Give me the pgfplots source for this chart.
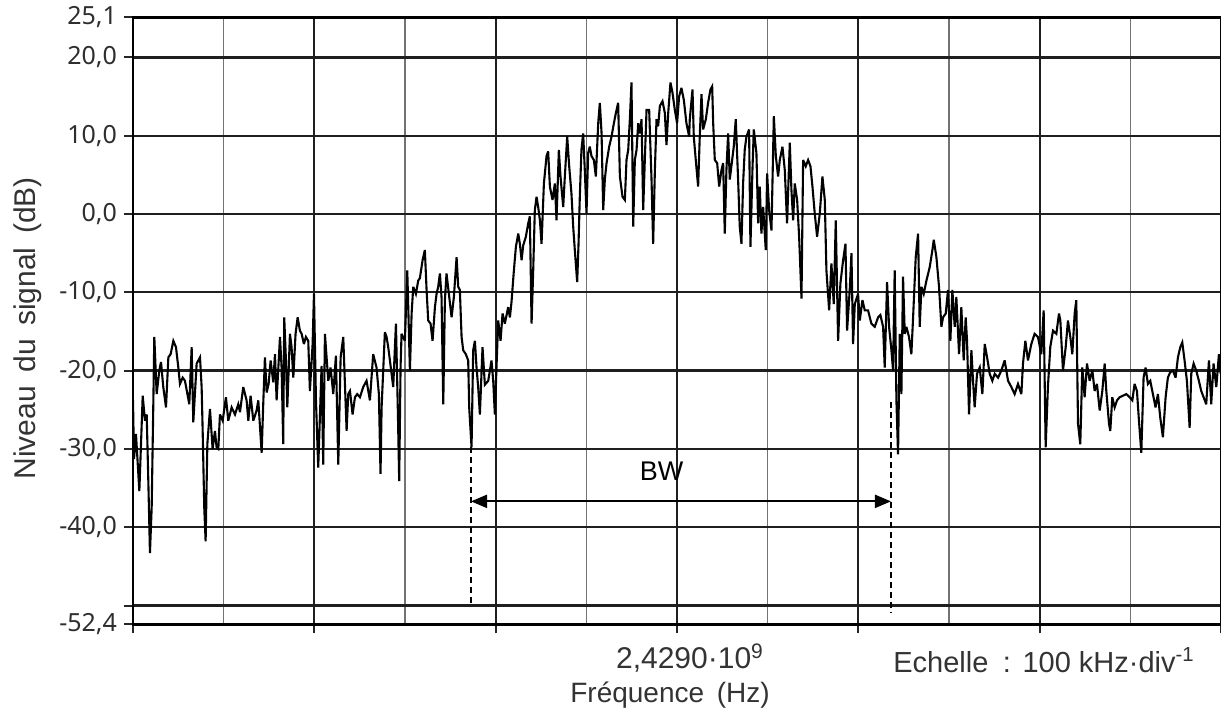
\documentclass[border=0pt]{standalone}
\usepackage{fontspec}
\setmainfont{Liberation Sans}
\newfontfamily\tickfont{Noto Sans}
\usepackage{pgfplots}
\pgfplotsset{compat=1.18}
\usetikzlibrary{calc,arrows.meta}

\begin{document}
\begin{tikzpicture}
\begin{axis}[
  scale only axis,
  width=544pt, height=303.4pt,
  xmin=0, xmax=12, ymin=-52.4, ymax=25.1,
  xtick={0,2,4,6,8,10,12},
  minor xtick={1,3,5,7,9,11},
  xticklabels={},
  ytick={-52.4,-50,-40,-30,-20,-10,0,10,20,25.1},
  yticklabels={{-52,4},{},{-40,0},{-30,0},{-20,0},{-10,0},{0,0},{10,0},{20,0},{25,1}},
  yticklabel style={font=\tickfont\fontsize{12.5}{14}\selectfont, text=black!82},
  tick align=outside,
  tick pos=left,
  major tick length=4.5pt,
  minor tick length=0pt,
  tick style={black!85, line width=1pt},
  xmajorgrids, xminorgrids, ymajorgrids,
  major grid style={black!88, line width=1.15pt},
  minor grid style={black!55, line width=0.75pt},
  axis line style={black, line width=1.3pt},
]
\addplot[black, line width=1.05pt, line join=miter, miter limit=4] coordinates {
(0.000,-23.8)(0.011,-31.3)(0.033,-28.1)(0.070,-35.4)(0.107,-23.2)(0.132,-26.4)(0.151,-25.6)(0.169,-34.1)(0.187,-43.3)(0.206,-37.5)(0.224,-24.3)(0.235,-15.7)(0.261,-23.0)(0.290,-20.0)(0.309,-18.9)(0.334,-22.1)(0.364,-24.7)(0.390,-18.3)(0.415,-17.9)(0.445,-16.2)(0.474,-17.0)(0.500,-19.6)(0.518,-21.7)(0.548,-20.9)(0.573,-21.3)(0.621,-24.3)(0.647,-17.0)(0.665,-26.6)(0.702,-19.1)(0.739,-18.3)(0.757,-22.1)(0.768,-27.5)(0.786,-37.5)(0.801,-41.8)(0.820,-29.4)(0.849,-24.9)(0.878,-30.0)(0.904,-27.7)(0.922,-29.8)(0.941,-30.0)(0.959,-25.6)(0.989,-26.4)(1.025,-23.4)(1.051,-26.4)(1.088,-24.7)(1.125,-25.6)(1.161,-24.3)(1.180,-25.3)(1.216,-22.1)(1.253,-23.8)(1.272,-26.4)(1.297,-23.2)(1.327,-26.4)(1.363,-25.1)(1.382,-23.8)(1.419,-30.5)(1.437,-24.1)(1.455,-18.3)(1.474,-22.8)(1.496,-21.7)(1.518,-18.7)(1.547,-21.5)(1.566,-17.9)(1.584,-23.8)(1.621,-15.7)(1.639,-19.6)(1.657,-29.4)(1.668,-13.2)(1.687,-18.7)(1.702,-24.7)(1.731,-15.3)(1.749,-17.0)(1.768,-20.9)(1.793,-15.3)(1.816,-13.2)(1.841,-14.9)(1.860,-15.3)(1.885,-16.6)(1.907,-15.7)(1.933,-16.2)(1.951,-22.6)(1.981,-16.6)(1.996,-10.2)(2.018,-23.8)(2.043,-32.4)
(2.080,-19.4)(2.098,-32.0)(2.117,-15.3)(2.135,-18.3)(2.154,-21.3)(2.179,-19.6)(2.209,-23.0)(2.238,-18.1)(2.264,-32.0)(2.290,-18.3)(2.319,-15.7)(2.356,-27.7)(2.374,-23.0)(2.393,-22.6)(2.422,-25.6)(2.448,-23.4)(2.473,-23.0)(2.503,-23.4)(2.539,-22.1)(2.576,-21.3)(2.613,-23.8)(2.649,-17.9)(2.686,-19.6)(2.712,-23.0)(2.730,-33.2)(2.742,-24.7)(2.778,-15.1)(2.797,-15.7)(2.815,-17.0)(2.852,-20.4)(2.870,-22.1)(2.900,-14.0)(2.922,-25.6)(2.936,-34.1)(2.951,-19.6)(2.962,-15.3)(2.999,-16.2)(3.025,-7.2)(3.036,-11.9)(3.054,-20.0)(3.073,-12.7)(3.091,-9.3)(3.120,-10.2)(3.146,-8.5)(3.164,-8.2)(3.194,-5.9)(3.219,-4.6)(3.238,-9.7)(3.256,-13.6)(3.282,-14.0)(3.304,-16.2)(3.330,-11.9)(3.348,-10.2)(3.366,-9.3)(3.385,-7.6)(3.403,-10.6)(3.422,-24.3)(3.440,-11.0)(3.458,-7.6)(3.488,-10.6)(3.514,-13.2)(3.539,-10.6)(3.569,-5.5)(3.587,-9.3)(3.605,-9.7)(3.624,-15.7)(3.642,-17.4)(3.671,-17.9)(3.697,-18.7)(3.708,-24.7)(3.734,-29.8)(3.752,-17.4)(3.771,-16.2)(3.789,-19.6)(3.807,-22.1)(3.826,-25.6)(3.855,-17.0)(3.881,-21.8)(3.918,-21.3)(3.954,-18.7)(3.973,-21.3)(3.991,-25.6)(4.009,-19.6)(4.028,-13.6)(4.054,-16.2)(4.076,-12.7)(4.101,-14.0)(4.138,-11.9)
(4.157,-13.2)(4.175,-11.2)(4.201,-7.2)(4.223,-4.2)(4.249,-2.5)(4.267,-3.8)(4.286,-5.9)(4.304,-4.0)(4.333,-2.9)(4.359,-1.2)(4.377,-0.3)(4.396,-14.0)(4.414,-7.2)(4.432,0.5)(4.451,2.2)(4.469,0.9)(4.488,-0.8)(4.506,-3.8)(4.532,3.9)(4.561,7.4)(4.579,8.0)(4.598,3.5)(4.627,1.8)(4.653,3.9)(4.671,-0.8)(4.697,8.2)(4.715,4.8)(4.745,0.9)(4.763,4.8)(4.789,9.9)(4.811,6.1)(4.836,2.6)(4.855,-1.6)(4.873,-4.6)(4.899,-8.7)(4.914,-3.8)(4.928,2.2)(4.946,8.2)(4.965,10.3)(4.983,5.6)(5.002,0.1)(5.020,7.8)(5.038,8.6)(5.057,7.4)(5.083,6.9)(5.105,4.8)(5.131,11.6)(5.149,14.2)(5.168,10.3)(5.186,0.5)(5.204,4.4)(5.223,6.5)(5.252,8.6)(5.278,9.9)(5.304,11.6)(5.326,12.9)(5.351,14.2)(5.370,4.8)(5.399,2.2)(5.425,1.8)(5.443,6.9)(5.462,8.2)(5.480,12.1)(5.498,16.8)(5.517,-1.6)(5.535,6.9)(5.554,8.2)(5.572,11.6)(5.590,10.3)(5.609,12.1)(5.627,0.5)(5.645,6.9)(5.664,13.3)(5.693,13.3)(5.719,4.4)(5.737,-3.8)(5.756,5.6)(5.774,12.1)(5.792,11.2)(5.811,13.8)(5.840,14.4)(5.866,12.9)(5.884,8.8)(5.903,12.9)(5.928,16.8)(5.950,15.5)(5.976,13.3)(6.001,11.6)(6.023,15.0)(6.049,16.1)(6.075,14.6)(6.104,11.6)(6.134,9.9)
(6.141,12.1)(6.171,15.9)(6.185,9.9)(6.207,6.9)(6.233,3.5)(6.251,9.9)(6.270,15.3)(6.288,10.8)(6.318,12.1)(6.343,14.2)(6.369,15.9)(6.388,16.3)(6.399,11.6)(6.417,6.9)(6.443,6.5)(6.465,3.5)(6.490,5.6)(6.509,6.5)(6.527,-2.5)(6.545,5.6)(6.564,10.3)(6.582,4.4)(6.600,6.1)(6.626,8.6)(6.648,12.1)(6.674,4.4)(6.692,-1.6)(6.711,-3.8)(6.729,3.9)(6.747,8.2)(6.766,9.9)(6.795,10.8)(6.810,-4.2)(6.832,5.6)(6.847,10.8)(6.876,7.8)(6.895,-1.2)(6.913,3.5)(6.931,-2.5)(6.950,0.9)(6.979,-4.6)(6.994,5.2)(7.016,0.5)(7.042,-2.1)(7.068,12.5)(7.090,7.4)(7.115,4.8)(7.134,6.9)(7.163,8.6)(7.189,5.6)(7.214,-1.2)(7.244,9.1)(7.262,3.1)(7.281,-0.8)(7.299,3.9)(7.325,1.8)(7.347,-2.9)(7.373,-10.8)(7.391,6.9)(7.420,6.1)(7.446,6.9)(7.472,6.1)(7.494,3.5)(7.519,0.1)(7.545,-2.9)(7.575,0.1)(7.604,4.8)(7.630,1.8)(7.648,-7.2)(7.678,-12.3)(7.703,-6.3)(7.729,-11.5)(7.751,-0.8)(7.777,-16.2)(7.802,-8.9)(7.832,-5.9)(7.858,-3.8)(7.876,-14.9)(7.905,-9.7)(7.924,-5.0)(7.942,-16.6)(7.961,-11.5)(7.997,-10.2)(8.016,-13.6)(8.045,-11.0)(8.071,-12.3)(8.107,-12.3)(8.144,-14.0)(8.181,-14.4)(8.218,-13.2)
(8.243,-12.9)(8.273,-14.4)(8.291,-19.6)(8.317,-8.7)(8.339,-14.4)(8.365,-17.4)(8.383,-20.0)(8.401,-7.2)(8.420,-23.8)(8.438,-30.7)(8.457,-15.3)(8.475,-23.0)(8.493,-8.0)(8.512,-15.3)(8.530,-14.4)(8.559,-15.7)(8.585,-17.9)(8.604,-13.2)(8.633,-5.5)(8.659,-2.5)(8.677,-14.4)(8.696,-9.3)(8.721,-10.2)(8.751,-8.5)(8.787,-6.8)(8.817,-4.6)(8.832,-3.3)(8.861,-5.5)(8.890,-9.3)(8.916,-14.4)(8.934,-13.2)(8.964,-12.7)(8.989,-9.7)(9.015,-16.2)(9.037,-9.7)(9.063,-14.4)(9.081,-10.6)(9.111,-17.9)(9.136,-11.9)(9.162,-18.7)(9.184,-13.2)(9.199,-16.2)(9.221,-25.6)(9.247,-17.4)(9.265,-21.3)(9.283,-24.7)(9.309,-20.4)(9.339,-19.6)(9.368,-23.0)(9.394,-16.6)(9.420,-18.3)(9.449,-20.4)(9.478,-21.3)(9.504,-20.4)(9.541,-20.9)(9.577,-20.0)(9.614,-18.7)(9.651,-21.3)(9.688,-22.1)(9.724,-23.0)(9.761,-21.7)(9.798,-23.0)(9.816,-19.1)(9.842,-16.2)(9.871,-18.7)(9.908,-16.6)(9.944,-15.3)(9.981,-15.7)(10.018,-17.9)(10.044,-12.3)(10.066,-29.8)(10.091,-22.1)(10.117,-17.0)(10.147,-14.9)(10.184,-15.3)(10.213,-12.7)
(10.228,-13.6)(10.257,-20.0)(10.287,-17.0)(10.312,-13.6)(10.338,-15.7)(10.360,-17.9)(10.386,-12.7)(10.404,-11.0)(10.423,-26.8)(10.448,-29.4)(10.470,-19.6)(10.496,-23.4)(10.522,-19.1)(10.551,-21.3)(10.581,-20.0)(10.606,-22.6)(10.632,-21.7)(10.662,-25.1)(10.691,-22.6)(10.717,-19.1)(10.735,-22.6)(10.765,-26.8)(10.779,-27.7)(10.801,-23.4)(10.827,-24.7)(10.853,-23.8)(10.882,-23.4)(10.919,-23.2)(10.956,-23.0)(10.992,-23.4)(11.022,-23.8)(11.047,-21.7)(11.073,-22.6)(11.095,-26.4)(11.121,-30.5)(11.146,-20.9)(11.168,-19.6)(11.194,-21.7)(11.220,-21.3)(11.249,-23.0)(11.278,-24.7)(11.304,-23.0)(11.330,-26.0)(11.359,-28.5)(11.389,-23.4)(11.414,-20.9)(11.440,-20.2)(11.470,-20.0)(11.499,-20.9)(11.525,-18.3)(11.551,-17.0)(11.573,-16.4)(11.598,-18.7)(11.624,-21.3)(11.654,-27.3)(11.672,-20.4)(11.698,-19.1)(11.727,-20.0)(11.756,-21.3)(11.782,-22.6)(11.808,-23.4)(11.837,-24.3)(11.867,-18.7)(11.892,-24.3)(11.918,-19.1)(11.948,-22.1)(11.977,-17.9)(11.996,-20.4)
};
\draw[line width=0.85pt, dash pattern=on 3pt off 2pt] (axis cs:3.728,-29.8) -- (axis cs:3.728,-50);
\draw[line width=0.85pt, dash pattern=on 3pt off 2pt] (axis cs:8.36,-24) -- (axis cs:8.36,-50.9);
\draw[{Triangle[length=8pt,width=6.5pt]}-{Triangle[length=8pt,width=6.5pt]}, line width=1pt] (axis cs:3.728,-36.7) -- (axis cs:8.36,-36.7);
\node[font=\fontsize{13.5}{15}\selectfont] at (axis cs:5.83,-32.8) {BW};
\end{axis}
\node[font=\fontsize{15}{17}\selectfont, text=black!80] at ($(current axis.south west)+(278.5pt,-16.9pt)$) {2,4290·10\textsuperscript{9}};
\node[font=\fontsize{14.5}{17}\selectfont, text=black!80] at ($(current axis.south west)+(455.5pt,-17.9pt)$) {Echelle\hspace{0.5em}:\hspace{0.4em}100 kHz·div\textsuperscript{-1}};
\node[font=\fontsize{14}{16}\selectfont, text=black!80] at ($(current axis.south west)+(268.5pt,-35.4pt)$) {Fréquence\hspace{0.45em}(Hz)};
\node[font=\fontsize{15}{17}\selectfont, text=black!80, rotate=90] at ($(current axis.south west)+(-52.5pt,148pt)$) {Niveau\hspace{0.45em}du\hspace{0.45em}signal\hspace{0.45em}(dB)};
\pgfresetboundingbox
\path[use as bounding box] ($(current axis.south west)+(-66.5pt,-48.85pt)$) rectangle ($(current axis.north east)+(0pt,8.75pt)$);
\end{tikzpicture}
\end{document}
